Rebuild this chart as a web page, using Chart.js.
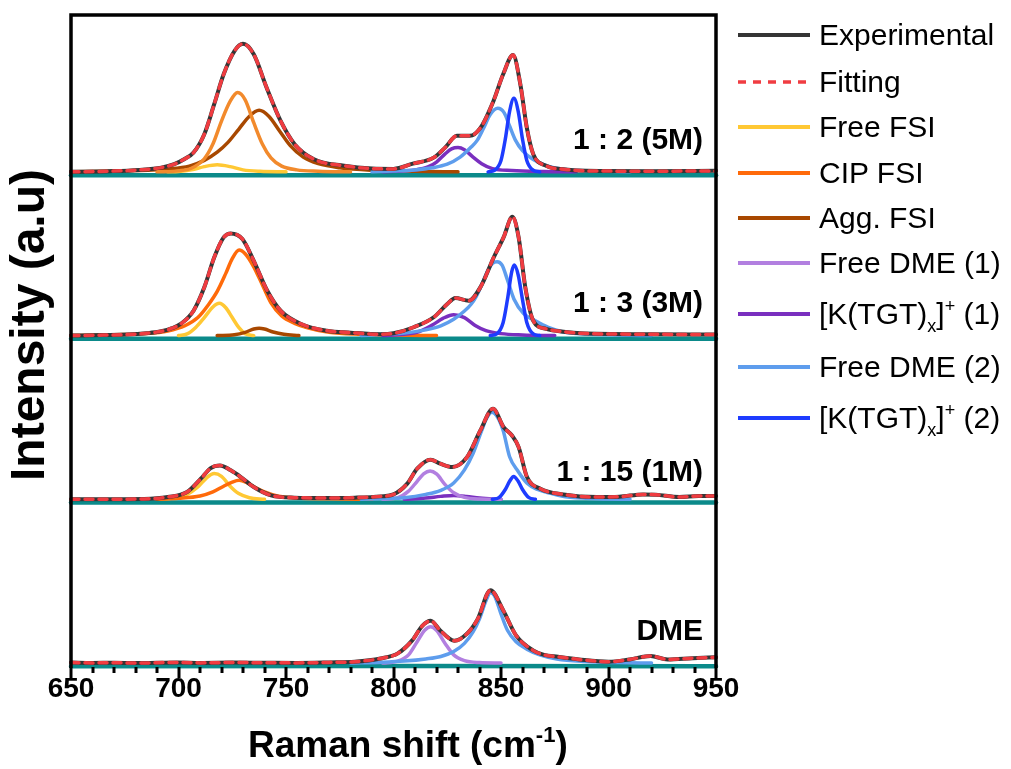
<!DOCTYPE html>
<html>
<head>
<meta charset="utf-8">
<script src="https://cdn.jsdelivr.net/npm/chart.js@4.4.1/dist/chart.umd.min.js"></script>
<style>
  html, body { margin: 0; padding: 0; background: #fff; }
  #wrap { position: relative; width: 1011px; height: 769px; font-family: "Liberation Sans", Arial, sans-serif; color: #000; }
  #raman { position: absolute; left: 0; top: 0; }
  .key { position: absolute; left: 736px; height: 0; }
  .key svg { position: absolute; left: 0; top: -5px; }
  .key span { position: absolute; left: 83px; top: -18px; font-size: 30px; line-height: 36px; white-space: nowrap; }
  .key sub { font-size: 18px; vertical-align: -8px; line-height: 0; }
  .key sup { font-size: 18px; vertical-align: 12px; line-height: 0; }
  #xtitle { position: absolute; left: 248px; top: 726px; font-size: 37px; font-weight: bold; line-height: 37px; white-space: nowrap; }
  #xtitle sup { font-size: 22px; vertical-align: 15px; line-height: 0; }
</style>
</head>
<body>
<div id="wrap">
  <canvas id="raman" width="1011" height="769"></canvas>
  <div id="xtitle">Raman shift (cm<sup>-1</sup>)</div>
  <div id="legend"></div>
</div>
<script>
// Raman shift window (cm-1)
const xMin = 650;
const xMax = 950;

// Series names (legend order)
const seriesNames = ['Experimental', 'Fitting', 'Free FSI', 'CIP FSI', 'Agg. FSI', 'Free DME (1)',
  '[K(TGT)<sub>x</sub>]<sup>+</sup> (1)', 'Free DME (2)', '[K(TGT)<sub>x</sub>]<sup>+</sup> (2)'];
const yTitle = 'Intensity (a.u)';

// Stacked spectra, top to bottom
const panelNames = ['1 : 2 (5M)', '1 : 3 (3M)', '1 : 15 (1M)', 'DME'];
const panelOffsets = [3, 2, 1, 0];
const baselineLevel = -0.02;

// ---- 1 : 2 (5M) ----
const exp_1_2 = [[650,0],[668,0.004],[682,0.012],[692,0.026],[698,0.047],[703,0.08],[707,0.118],[712,0.23],
  [716.6,0.413],[721,0.596],[726,0.738],[730,0.782],[735,0.718],[741,0.514],[747.5,0.311],[754,0.169],
  [763,0.077],[777,0.037],[790,0.02],[800,0.018],[809,0.05],[818.7,0.087],[824,0.148],[829.5,0.22],
  [835.5,0.22],[840.5,0.27],[846.5,0.433],[851,0.596],[855.6,0.713],[859,0.535],[862,0.27],[865,0.108],
  [871,0.037],[880,0.015],[890,0.006],[920,0.004],[950,0.006]];
const freeFSI_1_2 = [[695,0],[700,0.002],[706,0.012],[712,0.032],[718,0.043],[724,0.032],[730,0.012],[738,0.003],[750,0]];
const cipFSI_1_2 = [[690,0],[700,0.006],[706,0.022],[712,0.08],[716,0.17],[720,0.31],[724,0.43],[727.5,0.484],
  [731,0.44],[735,0.3],[739,0.17],[743,0.085],[748,0.035],[755,0.012],[765,0.004],[780,0]];
const aggFSI_1_2 = [[650,0],[665,0.004],[680,0.008],[695,0.018],[705,0.035],[712,0.07],[718,0.12],[723,0.18],
  [728,0.26],[733,0.34],[737.5,0.376],[742,0.34],[747,0.25],[752,0.16],[758,0.09],[765,0.05],[775,0.025],
  [790,0.01],[810,0.004],[830,0]];
const k1_1_2 = [[795,0],[805,0.006],[810,0.012],[816,0.03],[820,0.06],[824,0.11],[827,0.14],[830,0.148],
  [833,0.135],[837,0.09],[841,0.05],[846,0.02],[855,0.008],[870,0.002],[885,0]];
const dme2_1_2 = [[790,0],[800,0.005],[810,0.012],[818,0.025],[825,0.047],[831,0.09],[836,0.15],[839,0.194],
  [842,0.27],[845,0.35],[848.5,0.388],[851.5,0.36],[854,0.28],[856.7,0.194],[860,0.13],[865,0.075],
  [871.4,0.037],[880,0.015],[892,0.006],[910,0]];
const k2_1_2 = [[844,0],[847,0.01],[850,0.07],[852,0.2],[854,0.37],[856,0.449],[858,0.37],[860,0.2],[862,0.07],[865,0.01],[868,0]];

// ---- 1 : 3 (3M) ----
const exp_1_3 = [[650,0],[665,0.003],[676,0.006],[685,0.014],[692,0.026],[697,0.045],[701,0.071],[707,0.152],
  [712,0.295],[716.6,0.477],[721,0.6],[724.3,0.624],[729.7,0.59],[735,0.457],[741.3,0.274],[747.5,0.152],
  [757,0.071],[769,0.03],[780,0.018],[794,0.008],[800,0.014],[809.4,0.051],[818.7,0.112],[825,0.193],
  [828.8,0.23],[835,0.213],[840.4,0.295],[846.6,0.477],[851.2,0.6],[855.3,0.726],[858.2,0.6],[861.3,0.295],
  [865,0.091],[871,0.041],[880,0.022],[887,0.014],[920,0.008],[950,0.006]];
const freeFSI_1_3 = [[700,0],[704,0.01],[708,0.05],[712,0.11],[716,0.175],[719,0.197],[722,0.17],[725,0.11],[728,0.05],[731,0.012],[735,0]];
const cipFSI_1_3 = [[650,0],[670,0.005],[685,0.012],[695,0.028],[703,0.06],[709,0.11],[714,0.19],[718,0.27],
  [722,0.38],[725,0.47],[728.2,0.523],[731,0.5],[735,0.42],[739,0.31],[743,0.2],[748,0.12],[754,0.075],
  [760,0.048],[770,0.02],[785,0.008],[800,0.003],[820,0]];
const aggFSI_1_3 = [[718,0],[726,0.005],[731,0.02],[735,0.04],[737.5,0.045],[740,0.04],[744,0.022],[749,0.008],[756,0]];
const k1_1_3 = [[795,0],[805,0.008],[812,0.025],[818,0.064],[823,0.105],[828,0.128],[833,0.11],[838,0.062],
  [843,0.03],[850,0.012],[860,0.004],[875,0]];
const dme2_1_3 = [[785,0],[795,0.008],[805,0.015],[815,0.035],[822,0.06],[828,0.1],[833,0.15],[836,0.19],
  [838.5,0.24],[841,0.31],[844,0.4],[846,0.44],[848.2,0.451],[850.5,0.43],[853,0.34],[856,0.224],
  [860.5,0.135],[866,0.09],[872,0.05],[879,0.022],[890,0.01],[905,0.004],[920,0]];
const k2_1_3 = [[845,0],[848,0.01],[851,0.08],[853,0.22],[855,0.39],[856.2,0.431],[858,0.37],[860,0.22],[862,0.08],[865,0.01],[868,0]];

// ---- 1 : 15 (1M) ----
const exp_1_15 = [[650,0],[670,0.001],[684,0.002],[695,0.014],[704,0.045],[710.4,0.126],[715,0.191],[719.3,0.207],
  [724.3,0.177],[729,0.136],[735,0.075],[743,0.024],[754,0.01],[769,0.008],[782,0.01],[794,0.018],[800,0.03],
  [806.4,0.096],[811,0.187],[817.2,0.242],[821.8,0.218],[827.3,0.197],[834.2,0.258],[840.4,0.421],
  [846.3,0.553],[851.2,0.441],[855.1,0.39],[858.2,0.319],[862.1,0.136],[868.3,0.065],[879,0.03],
  [894.6,0.014],[905,0.016],[916,0.03],[922,0.028],[933,0.014],[942,0.02],[950,0.02]];
const freeFSI_1_15 = [[690,0],[698,0.01],[704,0.03],[709,0.075],[713,0.13],[716.6,0.157],[720,0.14],[724,0.08],[728,0.035],[733,0.01],[740,0]];
const cipFSI_1_15 = [[690,0],[700,0.006],[710,0.02],[716,0.045],[721,0.08],[725,0.105],[728.2,0.116],[732,0.1],
  [736,0.07],[740,0.045],[746,0.02],[755,0.008],[770,0.003],[790,0]];
const dme1_1_15 = [[795,0],[802,0.01],[807,0.05],[811,0.11],[814,0.155],[817,0.173],[820,0.155],[824,0.09],[828,0.04],[833,0.012],[840,0.002],[850,0]];
const k1_1_15 = [[805,0],[815,0.008],[822,0.018],[828,0.024],[834,0.018],[840,0.008],[850,0]];
const dme2_1_15 = [[785,0],[795,0.005],[805,0.01],[815,0.03],[822,0.055],[828,0.1],[833,0.18],[837,0.28],
  [841,0.42],[843.5,0.5],[845.8,0.532],[848,0.51],[851,0.42],[854,0.26],[858,0.17],[862,0.1],[867,0.06],
  [872,0.04],[880,0.015],[895,0.004],[910,0]];
const k2_1_15 = [[846,0],[849,0.01],[852,0.06],[854,0.11],[855.9,0.14],[858,0.11],[860,0.06],[863,0.01],[866,0]];

// ---- DME ----
const exp_dme = [[650,0.003],[660,0.001],[670,0.002],[680,0],[700,0.004],[710,0.001],[725,0.003],[740,0.002],
  [755,0.001],[770,0.004],[782,0.008],[794,0.028],[802,0.059],[808.8,0.14],[813.3,0.226],[817.3,0.258],
  [821.6,0.201],[828.4,0.136],[834.3,0.181],[839.2,0.27],[845.1,0.445],[851,0.323],[856.9,0.171],
  [864.7,0.079],[870,0.05],[876.5,0.038],[886.3,0.022],[900,0.008],[909.8,0.022],[919.6,0.043],
  [927.5,0.022],[939.2,0.03],[950,0.035]];
const dme1_dme = [[795,0],[802,0.012],[807,0.05],[811,0.13],[814.5,0.2],[817.3,0.222],[820,0.2],[824,0.12],[828,0.05],[833,0.015],[840,0.003],[850,0]];
const dme2_dme = [[780,0],[795,0.005],[805,0.012],[815,0.025],[822,0.04],[828,0.07],[833,0.12],[837,0.19],
  [840,0.27],[843,0.38],[845.1,0.429],[847,0.41],[850,0.3],[853,0.2],[857,0.13],[862,0.085],[868,0.05],
  [876,0.025],[888,0.01],[905,0.003],[920,0]];

// which fitted components belong to each spectrum: [series index, values]
const panelExp = [exp_1_2, exp_1_3, exp_1_15, exp_dme];
const panelComponents = [
  [[2, freeFSI_1_2], [4, aggFSI_1_2], [3, cipFSI_1_2], [6, k1_1_2], [7, dme2_1_2], [8, k2_1_2]],
  [[3, cipFSI_1_3], [2, freeFSI_1_3], [4, aggFSI_1_3], [6, k1_1_3], [7, dme2_1_3], [8, k2_1_3]],
  [[2, freeFSI_1_15], [3, cipFSI_1_15], [6, k1_1_15], [5, dme1_1_15], [7, dme2_1_15], [8, k2_1_15]],
  [[5, dme1_dme], [7, dme2_dme]]
];

// styling
const FONT = '"Liberation Sans", Arial, sans-serif';
const seriesColors = ['#353535', '#f03c41', '#ffc834', '#ff6a0a', '#a84800', '#b27fe0', '#7a2fbf', '#5e9ded', '#1e3cff'];
const cipTopColor = '#f28a2c';
const baselineColor = '#0b8a8a';
const legendRowY = [35, 81.7, 126.7, 173.3, 218.3, 263.3, 314.3, 367.3, 418.3];
const labelAnchorX = 944;
const labelAnchorY = [0.19, 0.195, 0.16, 0.19];

function shifted(values, offset) {
  return values.map(p => ({ x: p[0], y: p[1] + offset }));
}

// built bottom layer first; Chart.js paints index 0 on top, so the list is reversed below
const layers = [];
panelOffsets.forEach((off, i) => {
  layers.push({
    data: [{ x: xMin, y: off + baselineLevel }, { x: xMax, y: off + baselineLevel }],
    borderColor: baselineColor, borderWidth: 4.5
  });
});
panelOffsets.forEach((off, i) => {
  panelComponents[i].forEach(([s, vals]) => {
    const color = (i === 0 && s === 3) ? cipTopColor : seriesColors[s];
    layers.push({ data: shifted(vals, off), borderColor: color, borderWidth: 3.5 });
  });
});
panelOffsets.forEach((off, i) => {
  layers.push({ data: shifted(panelExp[i], off), borderColor: seriesColors[0], borderWidth: 4 });
  layers.push({ data: shifted(panelExp[i], off), borderColor: seriesColors[1], borderWidth: 3.5, borderDash: [8, 6] });
});
layers.forEach(d => { d.clip = 6; d.pointRadius = 0; d.fill = false; });
const datasets = layers.reverse();

// frame, tick marks, y title and panel captions
const frameAndTicks = {
  id: 'frameAndTicks',
  beforeDatasetsDraw(chart) {
    const { ctx, chartArea: a } = chart;
    ctx.save();
    ctx.strokeStyle = '#000';
    ctx.lineWidth = 3.5;
    ctx.beginPath();
    ctx.moveTo(a.left, a.bottom);
    ctx.lineTo(a.right, a.bottom);
    ctx.stroke();
    ctx.restore();
  },
  afterDatasetsDraw(chart) {
    const { ctx, chartArea: a, scales: { x, y } } = chart;
    ctx.save();
    ctx.fillStyle = '#000';
    ctx.font = 'bold 30px ' + FONT;
    ctx.textAlign = 'right';
    ctx.textBaseline = 'middle';
    panelNames.forEach((name, i) => {
      ctx.fillText(name, x.getPixelForValue(labelAnchorX), y.getPixelForValue(panelOffsets[i] + labelAnchorY[i]));
    });

    ctx.save();
    ctx.translate(31, 325);
    ctx.rotate(-Math.PI / 2);
    ctx.textAlign = 'center';
    ctx.font = 'bold 48px ' + FONT;
    ctx.fillText(yTitle, 0, 0);
    ctx.restore();

    ctx.strokeStyle = '#000';
    ctx.lineWidth = 3.5;
    ctx.lineCap = 'square';
    ctx.beginPath();
    ctx.moveTo(a.left, a.bottom);
    ctx.lineTo(a.left, a.top);
    ctx.lineTo(a.right, a.top);
    ctx.lineTo(a.right, a.bottom);
    ctx.stroke();
    ctx.lineCap = 'butt';
    ctx.lineWidth = 3;
    x.ticks.forEach(t => {
      const px = Math.round(x.getPixelForValue(t.value));
      const len = Math.round(t.value) % 50 === 0 ? 11 : 6;
      ctx.beginPath();
      ctx.moveTo(px, a.bottom + 1);
      ctx.lineTo(px, a.bottom + 1 + len);
      ctx.stroke();
    });
    ctx.restore();
  }
};

new Chart(document.getElementById('raman'), {
  type: 'line',
  data: { datasets },
  options: {
    responsive: false,
    animation: false,
    events: [],
    layout: { padding: { left: 0, right: 295, top: 15, bottom: 0 } },
    elements: { line: { cubicInterpolationMode: 'monotone', borderCapStyle: 'round', borderJoinStyle: 'round' } },
    plugins: { legend: { display: false }, tooltip: { enabled: false } },
    scales: {
      x: {
        type: 'linear', min: xMin, max: xMax,
        afterFit(scale) { scale.height = 103; },
        grid: { display: false, drawTicks: false },
        border: { display: false },
        ticks: {
          stepSize: 10, autoSkip: false, maxRotation: 0, padding: 6, color: '#000',
          font: { family: FONT, size: 28, weight: 'bold' },
          callback: v => (Math.round(v) % 50 === 0 ? Math.round(v) : '')
        }
      },
      y: {
        min: -0.018, max: 3.958,
        afterFit(scale) { scale.width = 71; },
        grid: { display: false },
        border: { display: false },
        ticks: { display: false }
      }
    }
  },
  plugins: [frameAndTicks]
});

// legend at the right
const legend = document.getElementById('legend');
seriesNames.forEach((name, s) => {
  const row = document.createElement('div');
  row.className = 'key';
  row.style.top = legendRowY[s] + 'px';
  const dash = s === 1 ? ' stroke-dasharray="8 7"' : '';
  const w = s === 1 ? 3.5 : 4;
  row.innerHTML = '<svg width="76" height="10"><line x1="2" y1="5" x2="74" y2="5" stroke="' +
    seriesColors[s] + '" stroke-width="' + w + '"' + dash + '/></svg><span>' + name + '</span>';
  legend.appendChild(row);
});
</script>
</body>
</html>
